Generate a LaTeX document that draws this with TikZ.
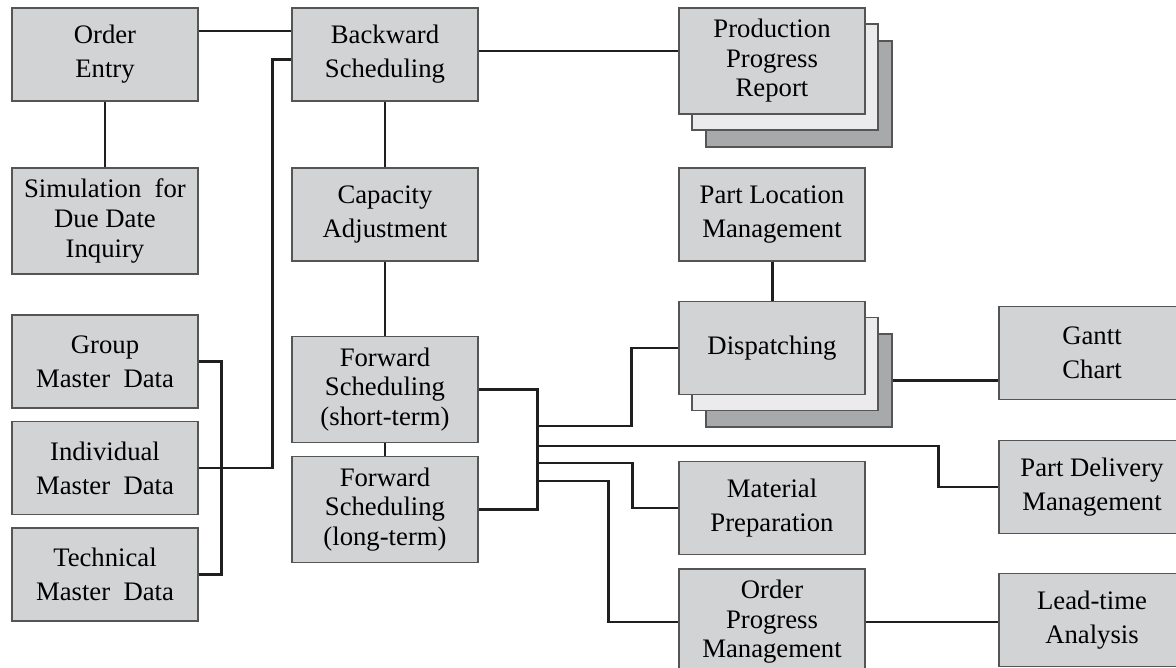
\documentclass[tikz,border=0pt]{standalone}
\usepackage{fontspec}
\setmainfont{Liberation Serif}
\definecolor{boxGray}{RGB}{210, 211, 213}
\definecolor{stackLight}{RGB}{235, 235, 237}
\definecolor{stackDark}{RGB}{168, 169, 171}
\definecolor{borderGray}{RGB}{85, 85, 85}
\usetikzlibrary{positioning}

\begin{document}
\begin{tikzpicture}[x=0.02cm, y=-0.02cm,
    every node/.style={font=\fontsize{15.2}{19.3}\selectfont},
    procBox/.style={rectangle, draw=borderGray, line width=0.8pt, fill=boxGray, minimum width=3.72cm, minimum height=1.86cm, align=center, inner sep=2pt},
    tallBox/.style={procBox, minimum height=2.12cm, font=\fontsize{15.2}{16.8}\selectfont},
    stackMid/.style={procBox, fill=stackLight},
    stackBack/.style={procBox, fill=stackDark},
    link/.style={line width=1.7pt, draw=black!88}]
    \useasboundingbox (0,0) rectangle (1176,668);

    % left column
    \node[procBox] (order) at (105,54.5) {Order\\Entry};
    \node[tallBox] (sim) at (105,221) {Simulation\ \ for\\Due Date\\Inquiry};
    \node[procBox] (group) at (105,361.5) {Group\\Master\ \ Data};
    \node[procBox] (indiv) at (105,468) {Individual\\Master\ \ Data};
    \node[procBox] (tech) at (105,574.5) {Technical\\Master\ \ Data};

    % scheduling column
    \node[procBox] (backward) at (385,54.5) {Backward\\Scheduling};
    \node[procBox] (capacity) at (385,214.5) {Capacity\\Adjustment};
    \node[tallBox] (fwdshort) at (385,389.5) {Forward\\Scheduling\\(short-term)};
    \node[tallBox] (fwdlong) at (385,509.5) {Forward\\Scheduling\\(long-term)};

    % stacked reports
    \node[tallBox, fill=stackDark] (prodback) at (799,94) {};
    \node[tallBox, fill=stackLight] (prodmid) at (785,77) {};
    \node[tallBox] (prod) at (772,61) {Production\\Progress\\Report};
    \node[stackBack] (dispback) at (799,380.5) {};
    \node[stackMid] (dispmid) at (785,364) {};
    \node[procBox] (disp) at (772,348) {Dispatching};

    \node[procBox] (partloc) at (772,214.5) {Part Location\\Management};
    \node[procBox] (material) at (772,508) {Material\\Preparation};
    \node[tallBox] (orderprog) at (772,622) {Order\\Progress\\Management};

    % right column
    \node[procBox] (gantt) at (1092,353) {Gantt\\Chart};
    \node[procBox] (partdel) at (1092,487) {Part Delivery\\Management};
    \node[procBox] (leadtime) at (1092,620) {Lead-time\\Analysis};

    % bus taps
    \coordinate (busA) at (537,426);
    \coordinate (busB) at (537,446);
    \coordinate (busC) at (537,463);
    \coordinate (busD) at (537,481);

    \draw[link] ([yshift=0.47cm]order.east) -- ([yshift=0.47cm]backward.west);
    \draw[link] (order) -- (sim);
    \draw[link] (backward) -- (capacity);
    \draw[link] (capacity) -- (fwdshort);
    \draw[link] (fwdshort) -- (fwdlong);
    \draw[link] (group.east) -- ++(23,0) |- (tech.east);
    \draw[link] (indiv.east) -- ++(74,0) |- ([yshift=-0.11cm]backward.west);
    \draw[link] ([yshift=0.07cm]backward.east) -- ([yshift=0.07cm]backward.east -| prod.west);
    \draw[link] (partloc) -- (disp);
    \draw[link] (dispback.east) -- (dispback.east -| gantt.west);
    \draw[link] (fwdshort.east) -| (busA) |- (fwdlong.east);
    \draw[link] (busA) -- ++(94,0) |- (disp.west);
    \draw[link] (busB) -- ++(401,0) |- (partdel.west);
    \draw[link] (busC) -- ++(95,0) |- (material.west);
    \draw[link] (busD) -- ++(71,0) |- (orderprog.west);
    \draw[link] (orderprog.east) -- (orderprog.east -| leadtime.west);
\end{tikzpicture}
\end{document}
